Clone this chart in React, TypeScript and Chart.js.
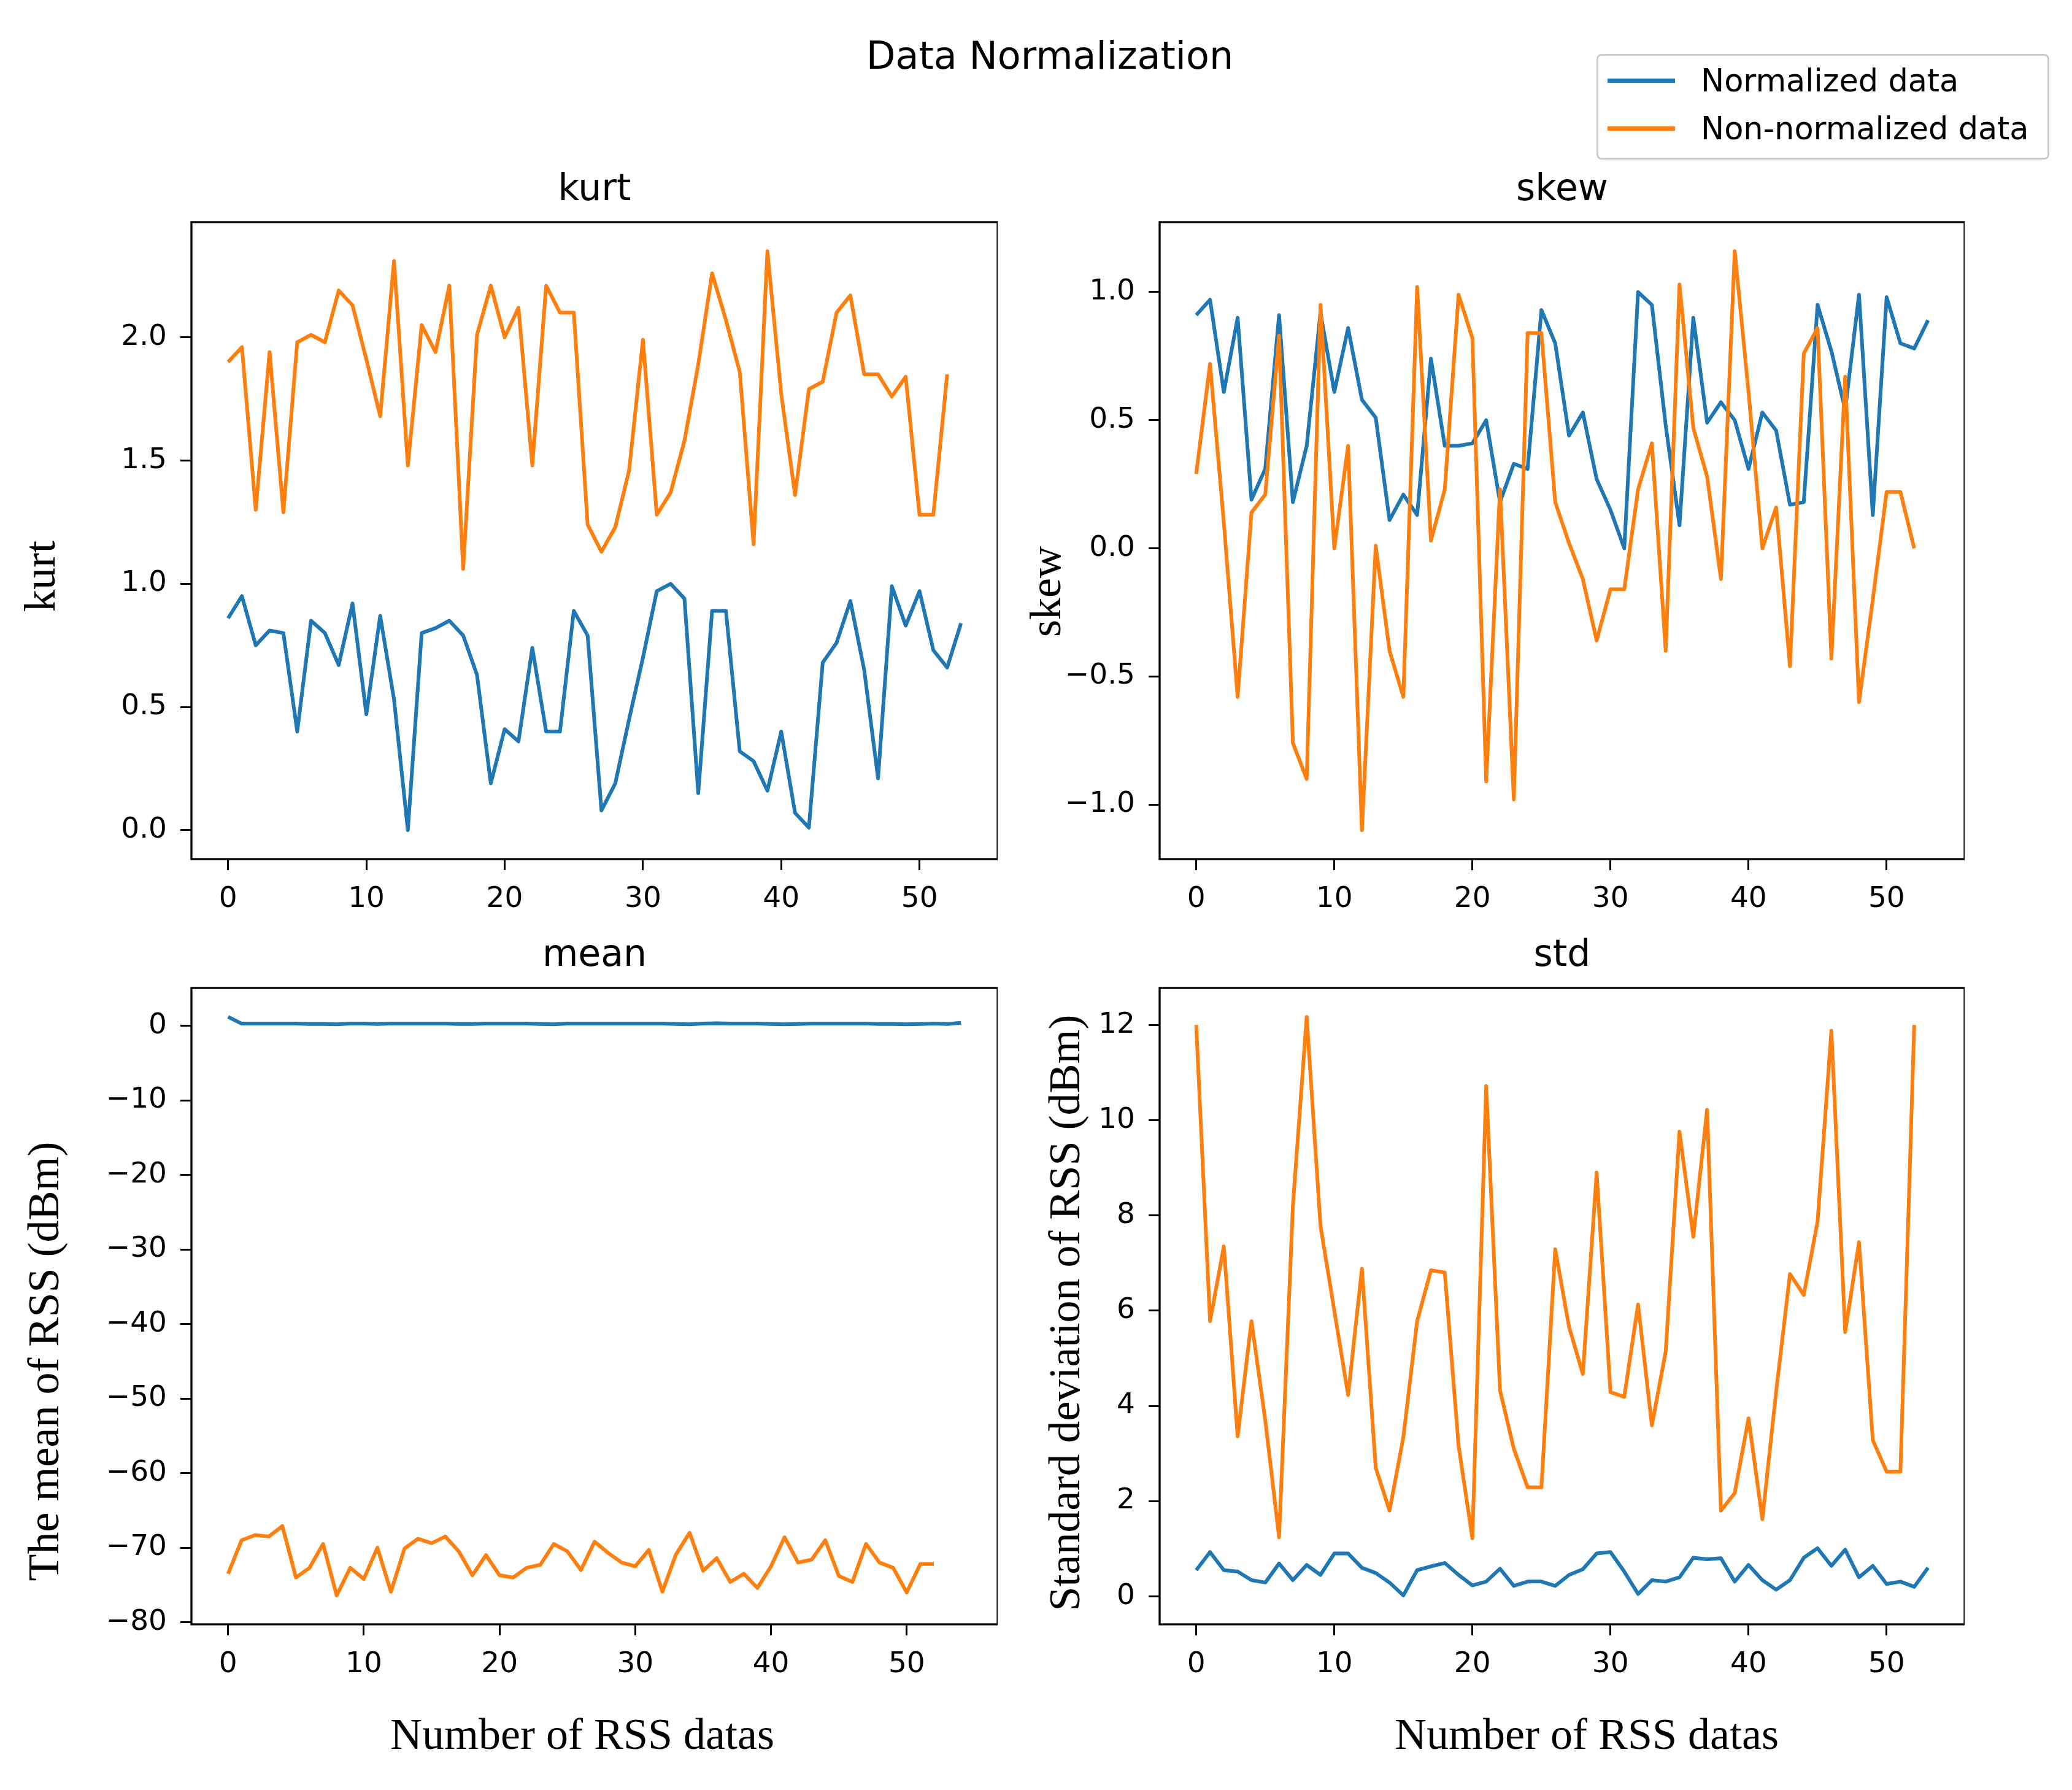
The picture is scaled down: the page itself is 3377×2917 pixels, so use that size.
import React, { useEffect, useRef } from 'react';
import {
    Chart,
    LineController,
    LineElement,
    PointElement,
    LinearScale,
    Title,
} from 'chart.js';

Chart.register(LineController, LineElement, PointElement, LinearScale, Title);

const BLUE = '#1f77b4';
const ORANGE = '#ff7f0e';
const SANS = '"DejaVu Sans", sans-serif';
const SERIF = '"Liberation Serif", "Times New Roman", serif';

// legend
const seriesLabels = ['Normalized data', 'Non-normalized data'];
const seriesColors = [BLUE, ORANGE];

// kurt
const kurtNormalized = [
    0.86, 0.95, 0.75, 0.81, 0.80, 0.40, 0.85, 0.80, 0.67, 0.92,
    0.47, 0.87, 0.53, 0.00, 0.80, 0.82, 0.85, 0.79, 0.63, 0.19,
    0.41, 0.36, 0.74, 0.40, 0.40, 0.89, 0.79, 0.08, 0.19, 0.45,
    0.70, 0.97, 1.00, 0.94, 0.15, 0.89, 0.89, 0.32, 0.28, 0.16,
    0.40, 0.07, 0.01, 0.68, 0.76, 0.93, 0.65, 0.21, 0.99, 0.83,
    0.97, 0.73, 0.66, 0.84,
];
const kurtRaw = [
    1.90, 1.96, 1.30, 1.94, 1.29, 1.98, 2.01, 1.98, 2.19, 2.13,
    1.91, 1.68, 2.31, 1.48, 2.05, 1.94, 2.21, 1.06, 2.01, 2.21,
    2.00, 2.12, 1.48, 2.21, 2.10, 2.10, 1.24, 1.13, 1.23, 1.46,
    1.99, 1.28, 1.37, 1.58, 1.89, 2.26, 2.07, 1.86, 1.16, 2.35,
    1.77, 1.36, 1.79, 1.82, 2.10, 2.17, 1.85, 1.85, 1.76, 1.84,
    1.28, 1.28, 1.85,
];

// skew
const skewNormalized = [
    0.91, 0.97, 0.61, 0.90, 0.19, 0.31, 0.91, 0.18, 0.40, 0.92,
    0.61, 0.86, 0.58, 0.51, 0.11, 0.21, 0.13, 0.74, 0.40, 0.40,
    0.41, 0.50, 0.18, 0.33, 0.31, 0.93, 0.80, 0.44, 0.53, 0.27,
    0.15, 0.00, 1.00, 0.95, 0.48, 0.09, 0.90, 0.49, 0.57, 0.50,
    0.31, 0.53, 0.46, 0.17, 0.18, 0.95, 0.77, 0.54, 0.99, 0.13,
    0.98, 0.80, 0.78, 0.89,
];
const skewRaw = [
    0.29, 0.72, 0.10, -0.58, 0.14, 0.21, 0.83, -0.76, -0.90, 0.95,
    0.00, 0.40, -1.10, 0.01, -0.40, -0.58, 1.02, 0.03, 0.23, 0.99,
    0.82, -0.91, 0.23, -0.98, 0.84, 0.84, 0.18, 0.02, -0.12, -0.36,
    -0.16, -0.16, 0.23, 0.41, -0.40, 1.03, 0.47, 0.28, -0.12, 1.16,
    0.61, 0.00, 0.16, -0.46, 0.76, 0.86, -0.43, 0.67, -0.60, -0.20,
    0.22, 0.22, 0.00,
];

// mean
const meanNormalized = [
    1.20, 0.30, 0.30, 0.30, 0.30, 0.30, 0.25, 0.25, 0.20, 0.30,
    0.30, 0.25, 0.30, 0.30, 0.30, 0.30, 0.30, 0.25, 0.25, 0.30,
    0.30, 0.30, 0.30, 0.25, 0.20, 0.30, 0.30, 0.30, 0.30, 0.30,
    0.30, 0.30, 0.30, 0.25, 0.20, 0.30, 0.35, 0.30, 0.30, 0.30,
    0.25, 0.20, 0.25, 0.30, 0.30, 0.30, 0.30, 0.30, 0.25, 0.25,
    0.20, 0.25, 0.30, 0.25, 0.40,
];
const meanRaw = [
    -73.5, -69.0, -68.3, -68.5, -67.1, -74.0, -72.7, -69.5, -76.4, -72.7,
    -74.2, -70.0, -75.9, -70.1, -68.8, -69.4, -68.5, -70.5, -73.7, -71.0,
    -73.7, -74.0, -72.7, -72.3, -69.5, -70.5, -73.0, -69.2, -70.7, -72.0,
    -72.5, -70.3, -75.9, -70.9, -68.0, -73.1, -71.4, -74.6, -73.5, -75.4,
    -72.5, -68.6, -72.0, -71.6, -69.0, -73.8, -74.6, -69.5, -72.0, -72.7,
    -76.0, -72.2, -72.2,
];

// std
const stdNormalized = [
    0.55, 0.93, 0.55, 0.52, 0.34, 0.29, 0.69, 0.34, 0.66, 0.45,
    0.90, 0.90, 0.60, 0.49, 0.29, 0.02, 0.55, 0.63, 0.70, 0.45,
    0.23, 0.31, 0.58, 0.22, 0.31, 0.31, 0.22, 0.45, 0.57, 0.90,
    0.93, 0.52, 0.05, 0.34, 0.31, 0.40, 0.81, 0.78, 0.80, 0.31,
    0.66, 0.34, 0.14, 0.34, 0.81, 1.01, 0.64, 0.98, 0.40, 0.64,
    0.26, 0.31, 0.20, 0.60,
];
const stdRaw = [
    12.0, 5.78, 7.35, 3.36, 5.78, 3.70, 1.24, 8.20, 12.17, 7.78,
    6.00, 4.23, 6.88, 2.70, 1.80, 3.34, 5.78, 6.85, 6.80, 3.16,
    1.22, 10.72, 4.33, 3.10, 2.29, 2.29, 7.29, 5.66, 4.67, 8.90,
    4.29, 4.19, 6.13, 3.59, 5.14, 9.76, 7.55, 10.22, 1.80, 2.17,
    3.74, 1.62, 4.30, 6.77, 6.33, 7.87, 11.88, 5.55, 7.44, 3.28,
    2.62, 2.62, 12.0,
];

// tick labels
const xTicks = [0, 10, 20, 30, 40, 50];
const kurtTicks = [0, 0.5, 1, 1.5, 2];
const skewTicks = [-1, -0.5, 0, 0.5, 1];
const meanTicks = [-80, -70, -60, -50, -40, -30, -20, -10, 0];
const stdTicks = [0, 2, 4, 6, 8, 10, 12];

// matplotlib-like 5% margins around the data
const padRange = (series: number[][]) => {
    const all = series.flat();
    const lo = Math.min(...all);
    const hi = Math.max(...all);
    const m = (hi - lo) * 0.05;
    return [lo - m, hi + m];
};

const fmt = (v: number, d: number) => v.toFixed(d).replace('-', '\u2212');

// box around the plotting area
const framePlugin = {
    id: 'frame',
    afterDatasetsDraw(chart: any) {
        const { ctx, chartArea } = chart;
        ctx.save();
        ctx.strokeStyle = '#000';
        ctx.lineWidth = 3.3;
        ctx.strokeRect(chartArea.left, chartArea.top, chartArea.right - chartArea.left, chartArea.bottom - chartArea.top);
        ctx.restore();
    },
};

// axis labels were placed by hand in the original figure, slightly off-centre
const axisTitlesPlugin = {
    id: 'axisTitles',
    afterDraw(chart: any, _args: any, opts: any) {
        const { ctx, chartArea } = chart;
        const cx = (chartArea.left + chartArea.right) / 2;
        const cy = (chartArea.top + chartArea.bottom) / 2;
        ctx.save();
        ctx.fillStyle = '#000';
        ctx.font = `72px ${SERIF}`;
        ctx.textAlign = 'center';
        ctx.textBaseline = 'middle';
        if (opts.yText) {
            ctx.save();
            ctx.translate(opts.yX, cy + opts.yDy);
            ctx.rotate(-Math.PI / 2);
            ctx.fillText(opts.yText, 0, 0);
            ctx.restore();
        }
        if (opts.xText) {
            ctx.fillText(opts.xText, cx + opts.xDx, opts.xY);
        }
        ctx.restore();
    },
};

type PanelProps = {
    title: string;
    yLabel: string;
    xLabel?: string;
    normalized: number[];
    raw: number[];
    yTicks: number[];
    decimals: number;
    left: number;
    top: number;
    width: number;
    height: number;
    axisWidth: number;
    axisHeight: number;
    yLabelX: number;
    yLabelDy: number;
    xLabelY?: number;
    xLabelDx?: number;
};

const Panel: React.FC<PanelProps> = (p) => {
    const ref = useRef<HTMLCanvasElement>(null);
    const chartRef = useRef<Chart | null>(null);

    useEffect(() => {
        if (!ref.current) return;
        if (chartRef.current) chartRef.current.destroy();

        const n = Math.max(p.normalized.length, p.raw.length) - 1;
        const yRange = padRange([p.normalized, p.raw]);
        const tickFont = { family: SANS, size: 47 };
        const grid = {
            drawOnChartArea: false,
            drawTicks: true,
            tickLength: 18,
            tickWidth: 3,
            tickColor: '#000',
        };

        chartRef.current = new Chart(ref.current, {
            type: 'line',
            data: {
                datasets: [
                    {
                        label: seriesLabels[0],
                        data: p.normalized.map((y, x) => ({ x, y })),
                        borderColor: seriesColors[0],
                        borderWidth: 6,
                        pointRadius: 0,
                        tension: 0,
                        borderJoinStyle: 'round',
                        order: 1,
                    },
                    {
                        label: seriesLabels[1],
                        data: p.raw.map((y, x) => ({ x, y })),
                        borderColor: seriesColors[1],
                        borderWidth: 6,
                        pointRadius: 0,
                        tension: 0,
                        borderJoinStyle: 'round',
                        order: 0,
                    },
                ],
            },
            options: {
                animation: false,
                responsive: false,
                devicePixelRatio: 1,
                layout: { padding: 0 },
                plugins: {
                    legend: { display: false },
                    tooltip: { enabled: false },
                    title: {
                        display: true,
                        text: p.title,
                        fullSize: false,
                        color: '#000',
                        font: { family: SANS, size: 60, weight: 'normal' },
                        padding: { top: 0, bottom: 16 },
                    },
                    axisTitles: {
                        yText: p.yLabel,
                        yX: p.yLabelX,
                        yDy: p.yLabelDy,
                        xText: p.xLabel ?? '',
                        xY: p.xLabelY ?? 0,
                        xDx: p.xLabelDx ?? 0,
                    },
                } as any,
                scales: {
                    x: {
                        type: 'linear',
                        min: -n * 0.05,
                        max: n * 1.05,
                        afterBuildTicks: (s: any) => {
                            s.ticks = xTicks.map((value) => ({ value }));
                        },
                        afterFit: (s: any) => {
                            s.height = p.axisHeight;
                        },
                        ticks: {
                            color: '#000',
                            font: tickFont,
                            padding: 20,
                            maxRotation: 0,
                            autoSkip: false,
                            callback: (v: any) => fmt(Number(v), 0),
                        },
                        grid,
                        border: { display: false },
                    },
                    y: {
                        type: 'linear',
                        min: yRange[0],
                        max: yRange[1],
                        afterBuildTicks: (s: any) => {
                            s.ticks = p.yTicks.map((value) => ({ value }));
                        },
                        afterFit: (s: any) => {
                            s.width = p.axisWidth;
                        },
                        ticks: {
                            color: '#000',
                            font: tickFont,
                            padding: 22,
                            autoSkip: false,
                            callback: (v: any) => fmt(Number(v), p.decimals),
                        },
                        grid,
                        border: { display: false },
                    },
                },
            },
            plugins: [framePlugin, axisTitlesPlugin],
        });

        return () => {
            if (chartRef.current) {
                chartRef.current.destroy();
                chartRef.current = null;
            }
        };
    }, []);

    return (
        <canvas
            ref={ref}
            width={p.width}
            height={p.height}
            style={{ position: 'absolute', left: p.left, top: p.top, width: p.width, height: p.height }}
        />
    );
};

const App: React.FC = () => {
    return (
        <div
            style={{
                position: 'absolute',
                left: 0,
                top: 0,
                width: 3377,
                height: 2917,
                overflow: 'hidden',
                background: '#fff',
            }}
        >
            <div
                style={{
                    position: 'absolute',
                    left: 1711,
                    top: 55,
                    transform: 'translateX(-50%)',
                    whiteSpace: 'nowrap',
                    fontFamily: SANS,
                    fontSize: 62,
                    lineHeight: '72px',
                    color: '#000',
                }}
            >
                Data Normalization
            </div>

            <div
                style={{
                    position: 'absolute',
                    left: 2602,
                    top: 88,
                    width: 738,
                    height: 172,
                    boxSizing: 'border-box',
                    border: '3px solid #cccccc',
                    borderRadius: 8,
                    background: 'rgba(255,255,255,0.8)',
                }}
            >
                {seriesLabels.map((label, i) => (
                    <React.Fragment key={label}>
                        <div
                            style={{
                                position: 'absolute',
                                left: 15,
                                top: 37 + i * 78,
                                width: 110,
                                height: 7,
                                background: seriesColors[i],
                            }}
                        />
                        <div
                            style={{
                                position: 'absolute',
                                left: 167,
                                top: 11 + i * 78,
                                whiteSpace: 'nowrap',
                                fontFamily: SANS,
                                fontSize: 51,
                                lineHeight: '59px',
                                color: '#000',
                            }}
                        >
                            {label}
                        </div>
                    </React.Fragment>
                ))}
            </div>

            <Panel
                title="kurt"
                yLabel="kurt"
                normalized={kurtNormalized}
                raw={kurtRaw}
                yTicks={kurtTicks}
                decimals={1}
                left={0}
                top={274}
                width={1626}
                height={1241}
                axisWidth={312}
                axisHeight={115}
                yLabelX={70}
                yLabelDy={58}
            />
            <Panel
                title="skew"
                yLabel="skew"
                normalized={skewNormalized}
                raw={skewRaw}
                yTicks={skewTicks}
                decimals={1}
                left={1640}
                top={274}
                width={1562}
                height={1241}
                axisWidth={250}
                axisHeight={115}
                yLabelX={69}
                yLabelDy={83}
            />
            <Panel
                title="mean"
                yLabel="The mean of RSS (dBm)"
                xLabel="Number of RSS datas"
                normalized={meanNormalized}
                raw={meanRaw}
                yTicks={meanTicks}
                decimals={0}
                left={0}
                top={1522}
                width={1626}
                height={1395}
                axisWidth={312}
                axisHeight={270}
                yLabelX={76}
                yLabelDy={90}
                xLabelY={1309}
                xLabelDx={-20}
            />
            <Panel
                title="std"
                yLabel="Standard deviation of RSS (dBm)"
                xLabel="Number of RSS datas"
                normalized={stdNormalized}
                raw={stdRaw}
                yTicks={stdTicks}
                decimals={0}
                left={1640}
                top={1522}
                width={1562}
                height={1395}
                axisWidth={250}
                axisHeight={270}
                yLabelX={100}
                yLabelDy={11}
                xLabelY={1309}
                xLabelDx={40}
            />
        </div>
    );
};

export default App;
